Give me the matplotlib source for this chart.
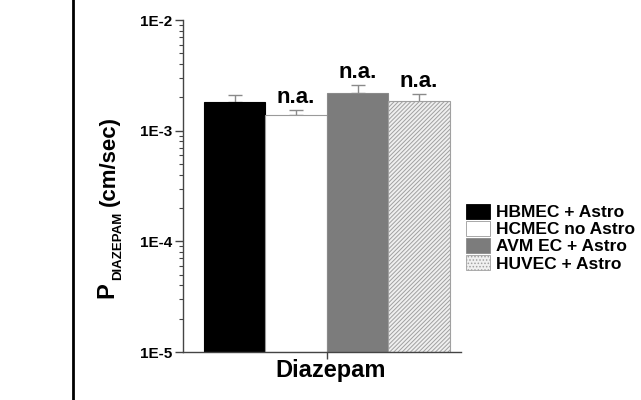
import numpy as np
import matplotlib
matplotlib.use('Agg')
import matplotlib.pyplot as plt
from matplotlib.patches import Patch
from matplotlib.lines import Line2D

plt.rcParams['font.family'] = ['Liberation Sans', 'DejaVu Sans']
plt.rcParams['font.weight'] = 'bold'
plt.rcParams['hatch.color'] = '#a8a8a8'
plt.rcParams['hatch.linewidth'] = 0.7

# ---- data ----
groups = ['HBMEC + Astro', 'HCMEC no Astro', 'AVM EC + Astro', 'HUVEC + Astro']
means = [1.805e-3, 1.386e-3, 2.19e-3, 1.83e-3]
err_top = [2.10e-3, 1.538e-3, 2.57e-3, 2.16e-3]
labels_above = ['', 'n.a.', 'n.a.', 'n.a.']
category = 'Diazepam'

fills = ['black', 'white', '#7c7c7c', '#f0f0f0']
edges = ['black', '#9a9a9a', '#8a8a8a', '#a0a0a0']
hatches = [None, None, None, '////////']

W, H = 641, 400
fig = plt.figure(figsize=(6.41, 4.0), dpi=100)
ax = fig.add_axes([0.2855, 0.12, 0.4337, 0.83])

x = np.arange(len(groups))
up = np.array(err_top) - np.array(means)
for i in range(len(groups)):
    ax.bar(x[i], means[i], width=1.0, bottom=1e-5, color=fills[i], edgecolor=edges[i],
           linewidth=0.8, hatch=hatches[i], zorder=2)
    ax.errorbar(x[i], means[i], yerr=[[0], [up[i]]], fmt='none', ecolor='#8a8a8a',
                elinewidth=1.0, capsize=5, capthick=1.0, zorder=1)
    if labels_above[i]:
        ax.annotate(labels_above[i], (x[i], err_top[i]), xytext=(0, 5),
                    textcoords='offset points', ha='center', va='baseline',
                    fontsize=16, fontweight='bold', zorder=4)

ax.set_yscale('log')
ax.set_ylim(1e-5, 1e-2)
ax.set_xlim(-0.84, 3.68)
ax.set_xticks([1.5])
ax.set_xticklabels([''])
ax.set_xlabel(category, fontsize=17, fontweight='bold')
ax.xaxis.set_label_coords(0.53, -0.02, transform=ax.transAxes)
ax.xaxis.label.set_va('top')
ax.set_yticks([1e-5, 1e-4, 1e-3, 1e-2])
ax.set_yticklabels(['1E-5', '1E-4', '1E-3', '1E-2'], fontsize=11, fontweight='bold')
ax.tick_params(axis='y', which='major', direction='out', length=6, width=1.0, color='#444444', pad=2)
ax.tick_params(axis='y', which='minor', direction='out', length=3, width=0.8, color='#444444')
ax.tick_params(axis='x', direction='out', length=5, width=1.0, color='#444444')
ax.spines['top'].set_visible(False)
ax.spines['right'].set_visible(False)
for s in ['left', 'bottom']:
    ax.spines[s].set_color('#444444')
    ax.spines[s].set_linewidth(1.0)

# y label built from pieces: P, small subscript, unit
fig.text(107 / W, 1 - 298 / H, 'P', rotation=90, fontsize=17, fontweight='bold',
         ha='center', va='bottom')
fig.text(118 / W, 1 - 280 / H, 'DIAZEPAM', rotation=90, fontsize=9.5, fontweight='bold',
         ha='center', va='bottom')
fig.text(109 / W, 1 - 116 / H, '(cm/sec)', rotation=90, fontsize=16, fontweight='bold',
         ha='center', va='top')

handles = [Patch(facecolor=fills[i], edgecolor=edges[i] if i else 'black', hatch=None if i < 3 else '.....',
                 linewidth=0.6) for i in range(len(groups))]
fig.legend(handles, groups, loc='upper left', bbox_to_anchor=(0.716, 0.507), frameon=False,
           prop={'weight': 'bold', 'size': 12.5}, handlelength=1.4, handleheight=0.9,
           handletextpad=0.35, labelspacing=0.05, borderaxespad=0)

# left border line
fig.add_artist(Line2D([73 / W, 73 / W], [0, 1], color='black', linewidth=2.0))

fig.savefig('out.png', dpi=100)
